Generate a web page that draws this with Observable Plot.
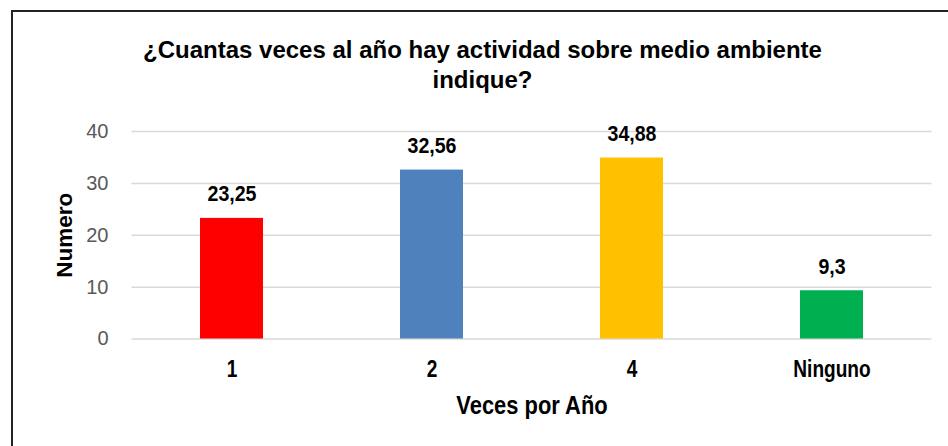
<!DOCTYPE html>
<html>
<head>
<meta charset="utf-8">
<script src="https://cdn.jsdelivr.net/npm/d3@7"></script>
<script src="https://cdn.jsdelivr.net/npm/@observablehq/plot@0.6"></script>
<style>
  html, body { margin: 0; padding: 0; background: #fff; }
  #wrap { position: relative; width: 948px; height: 446px; overflow: hidden; }
  #frame { position: absolute; left: 11px; top: 10px; width: 960px; height: 460px;
           border-left: 2px solid #222; border-top: 2px solid #222; box-sizing: border-box; pointer-events: none; }
</style>
</head>
<body>
<div id="wrap"><div id="frame"></div></div>
<script>
const title = "¿Cuantas veces al año hay actividad sobre medio ambiente\nindique?";
const xLabel = "Veces por Año";
const yLabel = "Numero";
const categories = ["1", "2", "4", "Ninguno"];
const values = [23.25, 32.56, 34.88, 9.3];
const colors = ["#FF0000", "#4F81BD", "#FFC000", "#00B050"];
const yTicks = [0, 10, 20, 30, 40];

const data = categories.map((c, i) => ({cat: c, value: values[i], color: colors[i]}));
const SANS = "'Liberation Sans', Arial, sans-serif";
const fmt = v => String(v).replace(".", ",");

// font sizes (distinct, also used to find each label group for horizontal condensing)
const FS_VALUE = 22, FS_XTICK = 23, FS_TITLE = 24, FS_YLABEL = 22.5, FS_XLABEL = 25.5;

const chart = Plot.plot({
  width: 948,
  height: 446,
  marginLeft: 131.5,
  marginRight: 16.5,
  marginTop: 131,
  marginBottom: 107.5,
  style: {background: "transparent", overflow: "visible", fontFamily: SANS},
  x: {domain: categories, paddingInner: 0.685, paddingOuter: 0.3425, label: null, axis: null},
  y: {domain: [0, 40], ticks: yTicks, label: null},
  marks: [
    Plot.gridY(yTicks, {stroke: "#d9d9d9", strokeOpacity: 1, strokeWidth: 1.5}),
    Plot.barY(data, {x: "cat", y: "value", fill: d => d.color}),
    Plot.text(data, {x: "cat", y: "value", text: d => fmt(d.value), dy: -17, lineAnchor: "bottom",
      fontWeight: "bold", fontSize: FS_VALUE, fill: "#000"}),
    Plot.axisY({ticks: yTicks, tickSize: 0, tickPadding: 23.5, fontSize: 20, fill: "#595959", label: null}),
    Plot.text(data, {x: "cat", frameAnchor: "bottom", text: "cat", textAnchor: "middle", dy: 37.5, lineAnchor: "bottom",
      fontWeight: "bold", fontSize: FS_XTICK, fill: "#000"}),
    Plot.text([title], {frameAnchor: "top", text: d => d, textAnchor: "middle", dx: -49.5, dy: -44, lineAnchor: "bottom",
      lineHeight: 1.25, fontSize: FS_TITLE, fontWeight: "bold", fill: "#000"}),
    Plot.text([yLabel], {frameAnchor: "left", text: d => d, textAnchor: "middle", rotate: -90, dx: -60, lineAnchor: "bottom",
      fontSize: FS_YLABEL, fontWeight: "bold", fill: "#000"}),
    Plot.text([xLabel], {frameAnchor: "bottom", text: d => d, textAnchor: "middle", dy: 74.8, lineAnchor: "bottom",
      fontSize: FS_XLABEL, fontWeight: "bold", fill: "#000"})
  ]
});

// Condense bold labels horizontally (reference uses a narrow face, not installed here)
const condense = [[FS_VALUE, 0.89], [FS_XTICK, 0.83], [FS_XLABEL, 0.86]];
for (const [fs, k] of condense) {
  chart.querySelectorAll(`g[font-size="${fs}"] text`).forEach(t => {
    const tr = t.getAttribute("transform");
    if (tr === null) return;
    t.setAttribute("transform", tr + ` scale(${k},1)`);
  });
}
document.getElementById("wrap").prepend(chart);
</script>
</body>
</html>
